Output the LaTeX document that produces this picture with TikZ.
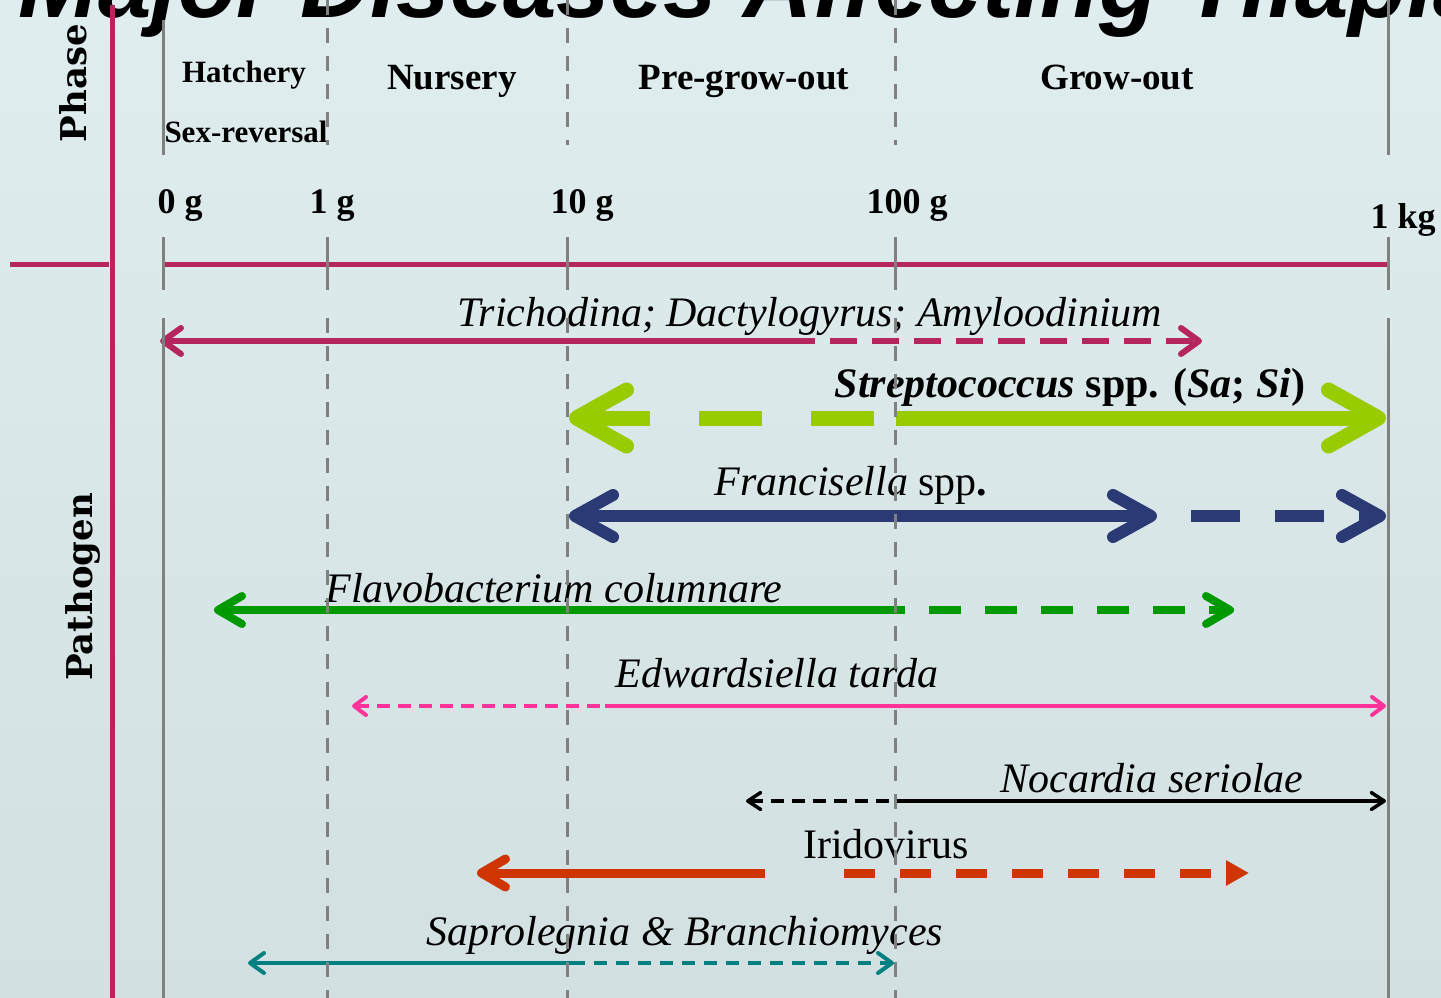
\documentclass[tikz,border=0pt]{standalone}
\usepackage{fontspec}
\setmainfont{Liberation Serif}
\newfontfamily\headfont{DejaVu Serif}
\newfontfamily\titlefont{Liberation Sans}
\usetikzlibrary{arrows.meta}

\definecolor{bgtop}{RGB}{223,237,239}
\definecolor{bgbot}{RGB}{211,224,226}
\definecolor{axisred}{RGB}{181,38,95}
\definecolor{gridgray}{RGB}{128,128,128}
\definecolor{strepgreen}{RGB}{153,204,0}
\definecolor{frannavy}{RGB}{43,58,116}
\definecolor{flavogreen}{RGB}{0,153,0}
\definecolor{edwpink}{RGB}{255,51,153}
\definecolor{irired}{RGB}{207,53,0}
\definecolor{sapteal}{RGB}{0,128,128}

\begin{document}
\begin{tikzpicture}[x=1pt, y=-1pt,
    every node/.style={inner sep=0pt, anchor=base},
    title/.style={anchor=base west, font=\titlefont\bfseries\itshape\fontsize{96}{96}\selectfont},
    phase/.style={font=\bfseries\fontsize{37}{37}\selectfont},
    small phase/.style={font=\bfseries\fontsize{31}{31}\selectfont},
    weight/.style={font=\bfseries\fontsize{36}{36}\selectfont},
    side/.style={anchor=center, rotate=90, font=\headfont\bfseries\fontsize{35.5}{35.5}\selectfont},
    bug/.style={font=\itshape\fontsize{42}{42}\selectfont},
    axis/.style={draw=axisred, line width=5pt},
    grid/.style={draw=gridgray, line width=3pt},
    griddash/.style={grid, dash pattern=on 15pt off 13pt},
    trich/.style={draw=axisred, line width=6pt, >={Straight Barb[length=18pt,width=26pt,round]}},
    strep/.style={draw=strepgreen, line width=15pt, >={Straight Barb[length=50pt,width=56pt,round]}},
    fran/.style={draw=frannavy, line width=12pt, >={Straight Barb[length=38pt,width=42pt,round]}},
    flavo/.style={draw=flavogreen, line width=8pt, >={Straight Barb[length=24pt,width=28pt,round]}},
    edw/.style={draw=edwpink, line width=4pt, >={Straight Barb[length=12pt,width=18pt,round]}},
    noc/.style={draw=black, line width=3.5pt, >={Straight Barb[length=13pt,width=17pt,round]}},
    iri/.style={draw=irired, line width=9pt, >={Straight Barb[length=24pt,width=28pt,round]}},
    sap/.style={draw=sapteal, line width=4pt, >={Straight Barb[length=14pt,width=20pt,round]}}]

% background and frame
\shade[top color=bgtop, bottom color=bgbot, use as bounding box] (0,0) rectangle (1441,998);
\clip (0,0) rectangle (1441,998);
\node[title] (title) at (18,18) {Major Diseases Affecting Tilapia};
\draw[axis] (112,5) -- (112,998);
\draw[axis] (10,264) -- (109,264);
\draw[axis] (163,264) -- (1388,264);

% phases and weights
\node[side] (phase) at (73,83) {Phase};
\node[side] (pathogen) at (83,587) {Pathogen};
\node[small phase] (hat) at (244,83) {Hatchery};
\node[small phase] (sex) at (246,142) {Sex-reversal};
\node[phase] (nur) at (452,89) {Nursery};
\node[phase] (pre) at (744,89) {Pre-grow-out};
\node[phase] (gro) at (1117,89) {Grow-out};
\node[weight] (w0) at (180,213) {0 g};
\node[weight] (w1) at (332,213) {1 g};
\node[weight] (w10) at (582,213) {10 g};
\node[weight] (w100) at (907,213) {100 g};
\node[weight] (w1000) at (1403,228) {1 kg};

% pathogens
\node[bug] (tri) at (810,326) {Trichodina; Dactylogyrus; Amyloodinium};
\coordinate (tri-l) at (160,341); \coordinate (tri-m) at (815,341); \coordinate (tri-r) at (1202,341);
\draw[trich, <-] (tri-l) -- (tri-m);
\draw[trich, ->, dash pattern=on 27pt off 15pt, dash phase=27pt] (tri-m) -- (tri-r);

\node[bug] (str) at (1070,397) {\bfseries\upshape\textit{Streptococcus} spp. (\textit{Sa}; \textit{Si})};
\coordinate (str-l) at (569,418); \coordinate (str-m) at (896,418); \coordinate (str-r) at (1386,418);
\draw[strep, <-, dash pattern=on 66pt off 49pt on 63pt off 49pt on 63pt off 60pt] (str-l) -- (str-m);
\draw[strep, ->] (str-m) -- (str-r);

\node[bug] (fra) at (851,495) {\textit{Francisella} \upshape spp\textbf{.}};
\coordinate (fra-l) at (569,516); \coordinate (fra-m) at (1157,516); \coordinate (fra-r) at (1386,516);
\draw[fran, <->] (fra-l) -- (fra-m);
\draw[fran, ->, dash pattern=on 49pt off 35pt, dash phase=50pt] (fra-m) -- (fra-r);

\node[bug] (fla) at (554,602) {Flavobacterium columnare};
\coordinate (fla-l) at (214,610); \coordinate (fla-m) at (905,610); \coordinate (fla-r) at (1234,610);
\draw[flavo, <-] (fla-l) -- (fla-m);
\draw[flavo, ->, dash pattern=on 32pt off 24pt, dash phase=32pt] (fla-m) -- (fla-r);

\node[bug] (edw) at (777,687) {Edwardsiella tarda};
\coordinate (edw-l) at (352,706); \coordinate (edw-m) at (605,706); \coordinate (edw-r) at (1386,706);
\draw[edw, <-, dash pattern=on 13pt off 8pt] (edw-l) -- (edw-m);
\draw[edw, ->] (edw-m) -- (edw-r);

\node[bug] (noc) at (1152,792) {Nocardia seriolae};
\coordinate (noc-l) at (746,801); \coordinate (noc-m) at (894,801); \coordinate (noc-r) at (1386,801);
\draw[noc, <-, dash pattern=on 13pt off 8pt] (noc-l) -- (noc-m);
\draw[noc, ->] (noc-m) -- (noc-r);

\node[bug, font=\upshape\fontsize{42}{42}\selectfont] (iri) at (886,858) {Iridovirus};
\coordinate (iri-l) at (477,873); \coordinate (iri-m) at (765,873);
\coordinate (iri-d) at (844,873); \coordinate (iri-r) at (1249,873);
\draw[iri, <-] (iri-l) -- (iri-m);
\draw[iri, -{Triangle[length=23pt,width=24pt]}, dash pattern=on 31pt off 25pt] (iri-d) -- (iri-r);

\node[bug] (sap) at (685,945) {Saprolegnia \& Branchiomyces};
\coordinate (sap-l) at (248,963); \coordinate (sap-m) at (572,963); \coordinate (sap-r) at (894,963);
\draw[sap, <-] (sap-l) -- (sap-m);
\draw[sap, ->, dash pattern=on 13pt off 9pt] (sap-m) -- (sap-r);

% weight lines on top
\draw[grid] (163,20) -- (163,155);
\draw[grid] (1388,0) -- (1388,155);
\foreach \x in {327,567,895} {
  \draw[griddash] (\x,0) -- (\x,145);
  \draw[griddash] (\x,318) -- (\x,998);
}
\foreach \x in {163,327,567,895,1388}
  \draw[grid] (\x,237) -- (\x,290);
\draw[grid] (163,318) -- (163,998);
\draw[grid] (1388,318) -- (1388,998);
\end{tikzpicture}
\end{document}
